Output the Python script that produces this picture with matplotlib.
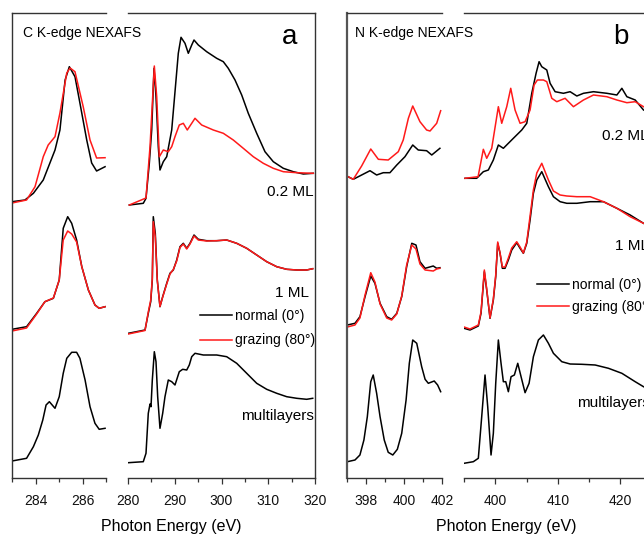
import matplotlib
matplotlib.use('Agg')
import matplotlib.pyplot as plt
from matplotlib.ticker import MultipleLocator
from matplotlib.lines import Line2D

plt.rcParams['font.family'] = ['Liberation Sans', 'DejaVu Sans']

# ---------------- data (intensity in arbitrary units, offsets included) ----------------
# Panel a, narrow (C K-edge pi* region)
ca_n_02_E_black = [283.0, 283.55, 283.91, 284.33, 284.83, 285.04, 285.26, 285.44, 285.68, 285.89, 286.18, 286.39, 286.60, 286.96]
ca_n_02_black = [276.3, 278, 284.7, 298, 328, 348, 398, 411.3, 401.3, 375, 338, 315, 307, 311.3]
ca_n_02_E_red = [283.0, 283.62, 283.98, 284.33, 284.54, 284.83, 285.04, 285.33, 285.47, 285.68, 286.03, 286.32, 286.60, 286.96]
ca_n_02_red = [275, 278, 291.3, 321.3, 333, 341.3, 365, 405, 410, 406.3, 371.3, 338, 320, 320.3]

ca_n_1_E = [283.0, 283.62, 284.05, 284.40, 284.76, 285.01, 285.18, 285.37, 285.54, 285.75, 285.97, 286.25, 286.53, 286.71, 286.96]
ca_n_1_black = [148.7, 151.3, 164.7, 176.3, 179.7, 198, 249.7, 261.3, 254.7, 238, 211.3, 188, 173, 169.7, 171.3]
ca_n_1_red = [147, 150, 164, 176.3, 180, 198, 238, 247, 244, 236, 211.3, 188, 173, 169.7, 171.3]

ca_n_ml_E = [283.0, 283.62, 283.91, 284.12, 284.31, 284.45, 284.59, 284.83, 285.01, 285.18, 285.33, 285.54, 285.75, 285.89, 286.11, 286.32, 286.53, 286.71, 286.96]
ca_n_ml = [17, 19.7, 31.3, 43, 58, 73, 76.3, 69.7, 81.3, 104.7, 119.7, 125.7, 125.7, 119.7, 98, 71.3, 54.7, 48.7, 49.7]

# Panel a, wide
ca_w_02_E_black = [280.28, 283.27, 283.85, 284.56, 285.07, 285.56, 285.99, 286.48, 286.84, 287.55, 288.28, 289.35, 290.27, 290.76, 291.34, 292.19, 292.90, 293.63, 294.12, 295.04, 296.83, 298.97, 300.39, 301.45, 302.89, 304.32, 305.73, 307.53, 309.30, 311.08, 313.22, 315.36, 317.50, 319.64]
ca_w_02_black = [273, 274.7, 279.7, 314.7, 348, 409.7, 381.3, 331.3, 308, 316.3, 321.3, 348, 398, 424.7, 440.7, 434.7, 424.7, 433, 438, 433, 426.3, 419.7, 416.3, 409.7, 398, 383, 364.7, 344.7, 326.3, 316.3, 309.7, 306.3, 304, 304.7]
ca_w_02_E_red = [280.28, 283.85, 284.71, 285.63, 286.14, 286.70, 287.55, 288.62, 289.35, 290.05, 290.97, 291.83, 292.68, 293.63, 294.33, 295.76, 298.25, 300.39, 302.52, 304.66, 306.80, 308.94, 311.08, 313.22, 316.09, 319.64]
ca_w_02_red = [273, 280, 331.3, 412, 381.3, 321.3, 328, 326.3, 331.3, 341.3, 353, 354.7, 348, 354.7, 359.7, 353, 348, 344.7, 338, 329.7, 321.3, 314.7, 309.7, 306.3, 305.3, 304.7]

ca_w_1_E = [280.06, 283.64, 284.34, 284.86, 285.20, 285.41, 285.84, 286.27, 286.84, 287.42, 288.28, 288.98, 289.69, 290.42, 291.12, 291.83, 292.56, 293.26, 294.12, 295.04, 296.83, 298.97, 301.11, 303.25, 305.39, 307.53, 309.67, 311.81, 313.95, 316.09, 318.22, 319.51]
ca_w_1_black = [144.7, 148, 164.7, 176.3, 198, 261.3, 244.7, 198, 171.3, 181.3, 194.7, 204.7, 208, 218, 231.3, 234.7, 229.7, 234.7, 243, 238.7, 237.3, 237.3, 238, 234.7, 229.7, 223, 216.3, 211.3, 208.7, 208, 208, 209.3]
ca_w_1_red = [144, 147.5, 166, 178, 200, 256.3, 241, 197, 171.5, 181, 194, 204, 208.5, 217, 230.5, 234, 229, 234, 242, 238, 237, 237.3, 238, 234.7, 229.7, 223, 216.3, 211.3, 208.7, 208, 208, 209.3]

ca_w_ml_E = [280.06, 283.27, 283.85, 284.34, 284.71, 284.92, 285.20, 285.63, 285.99, 286.35, 286.84, 287.42, 287.91, 288.62, 289.35, 290.05, 290.97, 291.70, 292.56, 293.11, 293.63, 294.33, 296.11, 298.97, 301.11, 303.25, 305.39, 307.53, 309.67, 311.81, 313.95, 316.09, 318.22, 319.51]
ca_w_ml = [15.3, 16.3, 24.7, 64.7, 74, 71.3, 98, 126.3, 116.3, 81.3, 49.7, 64.7, 81.3, 98, 96.3, 93, 106.3, 108.7, 108, 113, 121.3, 124.7, 123, 123, 121.3, 114.7, 104.7, 94.7, 88.7, 84.7, 81.3, 79.7, 78.7, 79.7]

# Panel b, narrow (N K-edge pi* region)
nb_n_02_E_black = [396.98, 397.33, 397.77, 398.21, 398.56, 398.91, 399.26, 399.62, 400.05, 400.46, 400.75, 401.19, 401.46, 401.89]
nb_n_02_black = [302, 298.7, 303, 307.3, 303, 305.3, 305.3, 313, 321.3, 333, 328, 327.3, 323, 329.7]
nb_n_02_E_red = [396.98, 397.33, 397.77, 398.25, 398.65, 399.17, 399.70, 399.96, 400.23, 400.46, 400.84, 401.19, 401.37, 401.72, 401.93]
nb_n_02_red = [302, 298.7, 312, 329, 318.7, 318, 326.3, 338, 359.7, 372, 356.3, 348, 347, 354.7, 367.3]

nb_n_1_E = [397.02, 397.42, 397.68, 397.95, 398.25, 398.47, 398.74, 399.09, 399.35, 399.62, 399.88, 400.14, 400.41, 400.63, 400.84, 401.11, 401.54, 401.72, 401.89]
nb_n_1_black = [153, 154.7, 161.3, 181.3, 202, 194.7, 174.7, 161.3, 158.7, 164.7, 181.3, 211.3, 234.7, 233, 216.3, 209.7, 212, 209.7, 210.3]
nb_n_1_red = [151, 153, 160, 183, 205.3, 196, 174, 160, 158, 164, 182, 213, 233, 229, 214, 208, 207, 209, 209.7]

nb_n_ml_E = [397.02, 397.42, 397.68, 397.89, 398.07, 398.25, 398.38, 398.56, 398.74, 398.96, 399.17, 399.41, 399.65, 399.88, 400.11, 400.28, 400.46, 400.67, 400.93, 401.11, 401.28, 401.59, 401.77, 401.93]
nb_n_ml = [16.3, 18, 23, 38, 61.3, 96.3, 103, 84.7, 61.3, 38, 25.7, 23, 28.7, 44.7, 78, 114.7, 138, 134.7, 111.3, 98.7, 94.7, 97, 93, 86.3]

# Panel b, wide
nb_w_02_E_black = [395.16, 397.03, 398.09, 398.89, 399.69, 400.49, 401.29, 402.09, 402.89, 404.23, 405.03, 405.83, 406.52, 407.0, 407.43, 408.23, 408.76, 409.56, 410.89, 411.96, 413.03, 414.09, 415.69, 417.83, 419.43, 420.23, 421.03, 422.36, 423.69]
nb_w_02_black = [299.7, 299.7, 306.3, 308, 318, 333, 329.7, 334.7, 339.7, 348, 354.7, 384.7, 404.7, 416.3, 411.3, 408, 394.7, 386.3, 384.7, 386.3, 382, 384.7, 386.3, 384.7, 383, 389.7, 381.3, 378, 368]
nb_w_02_E_red = [395.16, 397.25, 398.09, 398.63, 399.43, 400.49, 401.03, 401.83, 402.47, 403.16, 403.96, 404.76, 405.56, 406.2, 406.73, 407.69, 408.23, 409.03, 409.83, 411.16, 412.49, 414.09, 415.69, 417.83, 419.43, 421.03, 422.36, 423.69]
nb_w_02_red = [299.7, 301.3, 328.7, 319.7, 329.7, 371.3, 354.7, 371.3, 389.7, 368, 354.7, 356.3, 368, 393, 398, 398, 396.3, 379.7, 376.3, 379.7, 371.3, 378, 383, 381.3, 378, 375.3, 376.3, 371.3]

nb_w_1_E = [395.0, 395.96, 397.29, 397.72, 398.25, 398.63, 399.16, 399.69, 400.07, 400.39, 400.76, 401.13, 401.56, 402.09, 402.63, 403.43, 403.96, 404.49, 405.03, 405.56, 406.09, 406.63, 407.43, 408.49, 409.29, 410.36, 411.43, 413.03, 415.16, 417.29, 419.43, 421.56, 423.69]
nb_w_1_black = [149.7, 148, 152, 164.7, 206.3, 188, 159.7, 178, 201.3, 234.7, 224.7, 209.7, 209.7, 218, 228, 235.3, 229.7, 224.7, 234.7, 258, 284.7, 298, 306.3, 291.3, 281.3, 276.3, 274.7, 274.7, 276.3, 276.3, 269.7, 263, 254.7]
nb_w_1_red = [151, 149, 153, 166, 208, 189, 160, 179, 203, 236, 225, 211, 211, 220, 230, 236.3, 231, 225, 236, 262, 288, 305, 314.7, 298, 287, 283, 282, 281.3, 281.3, 276.3, 269.7, 261.3, 254.7]

nb_w_ml_E = [395.0, 396.49, 397.29, 397.83, 398.36, 398.79, 399.32, 399.69, 400.07, 400.49, 400.92, 401.29, 401.67, 402.09, 402.52, 403.05, 403.59, 404.12, 404.76, 405.4, 406.09, 406.89, 407.69, 408.49, 409.29, 410.63, 411.96, 413.83, 415.96, 418.09, 420.23, 422.36, 423.69]
nb_w_ml = [14.7, 16.3, 19.7, 61.3, 103, 71.3, 23, 44.7, 94.7, 138, 114.7, 96.3, 96.3, 86.3, 101.3, 103, 114.7, 101.3, 85.3, 94.7, 121.3, 138, 143, 134.7, 124.7, 116.3, 114, 113.7, 113, 109.7, 104.7, 96.3, 91.3]

legend_labels = ['normal (0°)', 'grazing (80°)']
spectrum_labels = ['0.2 ML', '1 ML', 'multilayers']

# ---------------- figure ----------------
W, H = 644, 536
fig = plt.figure(figsize=(W / 100, H / 100), dpi=100)
Y_TOP, Y_BOT = 13, 478
SPINE = '#333333'
BLACK = '#000000'
RED = '#ff1a1a'
LW = 1.1


def make_ax(x0, x1, xlim, major, minor, left_spine):
    ax = fig.add_axes([x0 / W, (H - Y_BOT) / H, (x1 - x0) / W, (Y_BOT - Y_TOP) / H])
    ax.set_xlim(*xlim)
    ax.set_ylim(0, Y_BOT - Y_TOP)
    ax.set_yticks([])
    ax.xaxis.set_major_locator(MultipleLocator(major))
    ax.xaxis.set_minor_locator(MultipleLocator(minor))
    ax.tick_params(axis='x', which='major', direction='out', length=4.5, width=0.9,
                   color=SPINE, labelsize=10, pad=7, labelcolor='#111111')
    ax.tick_params(axis='x', which='minor', direction='out', length=3, width=0.9, color=SPINE)
    for s in ax.spines.values():
        s.set_color(SPINE)
        s.set_linewidth(1.0)
    if left_spine:
        ax.spines['right'].set_visible(False)
    else:
        ax.spines['left'].set_visible(False)
    ax.patch.set_alpha(0)
    return ax


ax_an = make_ax(12, 106, (283, 287), 2, 1, True)
ax_aw = make_ax(128, 315, (280, 320), 10, 5, False)
ax_bn = make_ax(347, 442, (397, 402), 2, 1, True)
ax_bw = make_ax(464, 683, (395, 430), 10, 5, False)
ax_bn.spines['left'].set_color('#555555')
ax_bn.spines['left'].set_linewidth(1.6)

# panel a narrow
ax_an.plot(ca_n_02_E_black, ca_n_02_black, color=BLACK, lw=LW)
ax_an.plot(ca_n_02_E_red, ca_n_02_red, color=RED, lw=LW)
ax_an.plot(ca_n_1_E, ca_n_1_black, color=BLACK, lw=LW)
ax_an.plot(ca_n_1_E, ca_n_1_red, color=RED, lw=LW)
ax_an.plot(ca_n_ml_E, ca_n_ml, color=BLACK, lw=LW)

# panel a wide
ax_aw.plot(ca_w_02_E_black, ca_w_02_black, color=BLACK, lw=LW)
ax_aw.plot(ca_w_02_E_red, ca_w_02_red, color=RED, lw=LW)
ax_aw.plot(ca_w_1_E, ca_w_1_black, color=BLACK, lw=LW)
ax_aw.plot(ca_w_1_E, ca_w_1_red, color=RED, lw=LW)
ax_aw.plot(ca_w_ml_E, ca_w_ml, color=BLACK, lw=LW)

# panel b narrow
ax_bn.plot(nb_n_02_E_black, nb_n_02_black, color=BLACK, lw=LW)
ax_bn.plot(nb_n_02_E_red, nb_n_02_red, color=RED, lw=LW)
ax_bn.plot(nb_n_1_E, nb_n_1_black, color=BLACK, lw=LW)
ax_bn.plot(nb_n_1_E, nb_n_1_red, color=RED, lw=LW)
ax_bn.plot(nb_n_ml_E, nb_n_ml, color=BLACK, lw=LW)

# panel b wide
ax_bw.plot(nb_w_02_E_black, nb_w_02_black, color=BLACK, lw=LW)
ax_bw.plot(nb_w_02_E_red, nb_w_02_red, color=RED, lw=LW)
ax_bw.plot(nb_w_1_E, nb_w_1_black, color=BLACK, lw=LW)
ax_bw.plot(nb_w_1_E, nb_w_1_red, color=RED, lw=LW)
ax_bw.plot(nb_w_ml_E, nb_w_ml, color=BLACK, lw=LW)


def ftext(x, y, s, **kw):
    fig.text(x / W, 1 - y / H, s, **kw)


# titles / panel letters
ftext(23, 33, 'C K-edge NEXAFS', fontsize=10, va='center', ha='left')
ftext(355, 33, 'N K-edge NEXAFS', fontsize=10, va='center', ha='left')
ftext(290, 37, 'a', fontsize=20, va='center', ha='center')
ftext(621, 37, 'b', fontsize=20, va='center', ha='center')

# x labels
ftext(171, 526, 'Photon Energy (eV)', fontsize=11.5, ha='center', va='center')
ftext(506, 526, 'Photon Energy (eV)', fontsize=11.5, ha='center', va='center')

# spectrum labels panel a
ftext(314, 192, spectrum_labels[0], fontsize=11, ha='right', va='center')
ftext(309, 293, spectrum_labels[1], fontsize=11, ha='right', va='center')
ftext(314, 416, spectrum_labels[2], fontsize=11, ha='right', va='center')
# spectrum labels panel b
ftext(602, 136, spectrum_labels[0], fontsize=11, ha='left', va='center')
ftext(615, 246, spectrum_labels[1], fontsize=11, ha='left', va='center')
ftext(577, 403, spectrum_labels[2], fontsize=11, ha='left', va='center')

# legends
handles = [Line2D([], [], color=BLACK, lw=LW), Line2D([], [], color=RED, lw=LW)]
fig.legend(handles, legend_labels, loc='upper left',
           bbox_to_anchor=(200 / W, 1 - 309 / H), bbox_transform=fig.transFigure,
           frameon=False, fontsize=10, handlelength=2.3, handletextpad=0.25,
           labelspacing=0.75, borderpad=0, borderaxespad=0)
fig.legend(handles, legend_labels, loc='upper left',
           bbox_to_anchor=(537 / W, 1 - 278 / H), bbox_transform=fig.transFigure,
           frameon=False, fontsize=10, handlelength=2.3, handletextpad=0.25,
           labelspacing=0.6, borderpad=0, borderaxespad=0)

fig.savefig('out.png', dpi=100)
